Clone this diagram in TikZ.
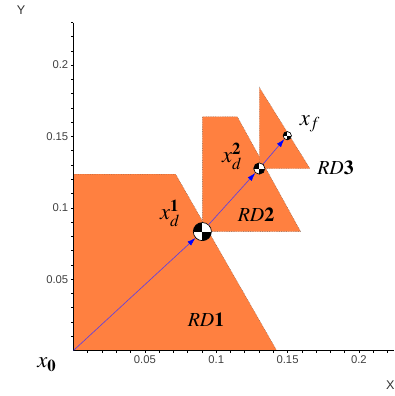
\documentclass[tikz,border=0pt]{standalone}
\usepackage{mathptmx}
\usepackage{fontspec}
\setmainfont{Liberation Serif}
\setsansfont{Liberation Sans}
\usetikzlibrary{arrows.meta}
\definecolor{rdfill}{RGB}{255,128,64}
\definecolor{pathline}{RGB}{96,64,224}

\begin{document}
\begin{tikzpicture}[x=0.378cm, y=0.378cm,
    region/.style ={fill=rdfill, draw=black!75, densely dotted, line width=0.3pt},
    hop/.style    ={draw=pathline, line width=0.5pt, -{Latex[color=blue, length=2.2mm, width=1.4mm]}},
    cmark/.style  ={circle, draw=black, line width=0.5pt, fill=white, inner sep=0pt, minimum size=#1,
                    path picture={\fill[black] (path picture bounding box.center) rectangle (path picture bounding box.north west);
                                  \fill[black] (path picture bounding box.center) rectangle (path picture bounding box.south east);}},
    lbl/.style    ={font=\fontsize{17}{20}\selectfont, inner sep=0pt},
    rdlbl/.style  ={font=\fontsize{15}{18}\selectfont, inner sep=0pt},
    ticklbl/.style={font=\sffamily\fontsize{8.5}{10}\selectfont, text=black!75, inner sep=0pt},
    axlbl/.style  ={font=\sffamily\fontsize{9.5}{11}\selectfont, text=black!80, inner sep=0pt},
]
\useasboundingbox (-5.15,-3.19) rectangle (22.46,24.56);
% reachable domains
\draw[region] (0,0) -- (0,12.35) -- (7.16,12.35) -- (14.24,0) -- cycle;
\draw[region] (9.03,8.33) -- (9.03,16.38) -- (11.48,16.38) -- (15.92,8.33) -- cycle;
\draw[region] (13.02,12.75) -- (13.02,18.44) -- (16.57,12.75) -- cycle;
% axes
\draw[line width=0.6pt] (0,0) -- (22.46,0);
\draw[line width=0.6pt] (0,0) -- (0,22.95);
\foreach \t in {1,...,22} \draw[line width=0.4pt] (\t,0) -- (\t,-0.15);
\foreach \t in {1,...,23} \draw[line width=0.4pt] (0,\t) -- (-0.15,\t);
\foreach \v/\s in {5/0.05,10/0.1,15/0.15,20/0.2} {
  \node[ticklbl, anchor=north] (xt\v) at (\v,-0.35) {\s};
  \node[ticklbl, anchor=east]  (yt\v) at (-0.35,\v) {\s};
}
\node[axlbl] (xlab) at (22.2,-2.42) {X};
\node[axlbl] (ylab) at (-3.68,23.86) {Y};
% points
\coordinate (x0) at (0,0);
\node[cmark=4.8mm] (xd1) at (9.03,8.33) {};
\node[cmark=3mm]   (xd2) at (13.02,12.75) {};
\node[cmark=2.2mm] (xf)  at (14.98,15.05) {};
\draw[hop] (x0) -- (xd1);
\draw[hop] (xd1) -- (xd2);
\draw[hop] (xd2) -- (xf);
% labels
\node[lbl] (lx0)  at (-1.86,-1.02) {$x_{\mathbf{0}}$};
\node[lbl] (lxd1) at (6.76,9.64)   {$x_d^{\mathbf{1}}$};
\node[lbl] (lxd2) at (11.11,13.63) {$x_d^{\mathbf{2}}$};
\node[lbl] (lxf)  at (16.57,15.87) {$x_f$};
\node[rdlbl] (lrd1) at (9.29,2.14)  {$RD\mathbf{1}$};
\node[rdlbl] (lrd2) at (12.79,9.53) {$RD\mathbf{2}$};
\node[rdlbl] (lrd3) at (18.36,12.79) {$RD\mathbf{3}$};
\end{tikzpicture}
\end{document}
